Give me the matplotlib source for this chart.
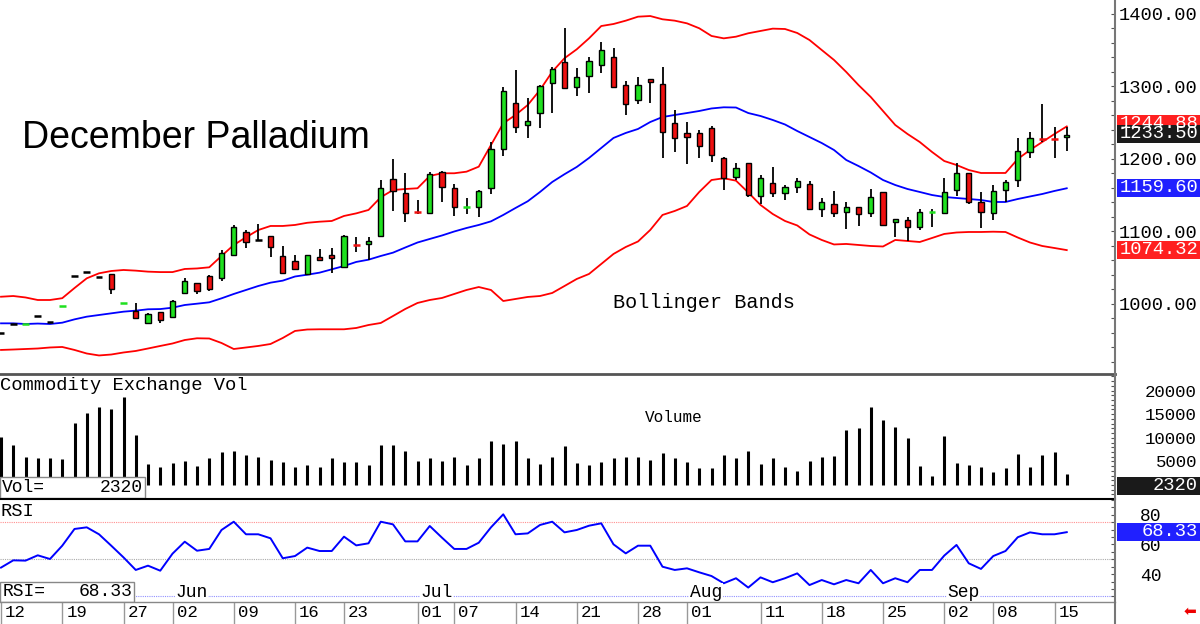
import numpy as np
import matplotlib
matplotlib.use('Agg')
import matplotlib.pyplot as plt
from matplotlib.patches import Rectangle
from matplotlib.ticker import MultipleLocator, FixedLocator

# ---- data ----
opens = [960.4, 973, 972.2, 983, 975.6, 996.8, 1038.6, 1044.6, 1036.8, 1041,
         1001.2, 990.3, 974.2, 988.5, 982.5, 1014.7, 1028.5, 1038.6, 1035.4, 1067.6,
         1099.7, 1088.3, 1093.4, 1066.2, 1059.3, 1041.4, 1064.4, 1067.6, 1050.6, 1081.4,
         1082.8, 1093.8, 1172, 1152.7, 1127.6, 1126, 1182.5, 1159.6, 1134, 1133.3,
         1159.6, 1213.3, 1276.8, 1246.9, 1263, 1304.4, 1333.4, 1298.9, 1314.5, 1329.7,
         1340.7, 1301.7, 1281.4, 1310.3, 1303.4, 1249.2, 1235.4, 1235.4, 1243.2, 1200.9,
         1175.6, 1194, 1149, 1166.4, 1152.7, 1161, 1165.1, 1130.6, 1137.9, 1126.5,
         1133.4, 1125.1, 1154, 1112.7, 1115.9, 1105.8, 1126.3, 1125.1, 1157.2, 1180.3,
         1140.3, 1125.1, 1157.2, 1171, 1210, 1228.5, 1227.4, 1230.3]
highs = [960.4, 973, 972.6, 983, 975.6, 997.2, 1038.6, 1044.6, 1036.8, 1041,
         1001.6, 1001.4, 987, 989, 1005, 1035.4, 1029, 1040, 1074.5, 1108.3,
         1102, 1110.3, 1094, 1080, 1067.6, 1068, 1075.4, 1076.8, 1095, 1092,
         1092, 1171, 1199.6, 1181, 1143.4, 1182.5, 1183, 1165, 1145.7, 1157,
         1224, 1299.7, 1322.8, 1283.7, 1301.5, 1327, 1380.3, 1326, 1341, 1361.8,
         1352.7, 1307.6, 1312.7, 1310.5, 1327.3, 1267.6, 1250.6, 1240, 1245.5, 1203.2,
         1194.9, 1194.5, 1177.9, 1189.4, 1164.1, 1173.3, 1169.7, 1146.6, 1156.3, 1141.1,
         1134, 1158.6, 1154.5, 1117, 1120.4, 1131, 1131, 1173.3, 1194.9, 1181,
         1155, 1164.1, 1171, 1228.5, 1237.7, 1275.9, 1244.6, 1244.6]
lows = [960.4, 973, 972.2, 983, 975.6, 996.8, 1038.6, 1044.6, 1036.8, 1013.8,
        1001.2, 979.5, 973.5, 974.2, 981, 1013.8, 1013.8, 1018.3, 1031.7, 1067,
        1077.7, 1088.3, 1064.4, 1043, 1047, 1041, 1060, 1043.2, 1050, 1072,
        1060.7, 1093, 1128.7, 1113.5, 1123.7, 1125.5, 1141, 1121.4, 1123.7, 1120.4,
        1151.3, 1204, 1236.3, 1228.5, 1242.3, 1263, 1297, 1287.3, 1290.6, 1319,
        1299, 1260.7, 1275.9, 1277.7, 1200.9, 1209.2, 1192.7, 1200.9, 1196.3, 1157.2,
        1171, 1148, 1137.9, 1148, 1143.4, 1152.7, 1130, 1119.6, 1119.6, 1103,
        1108, 1119.6, 1107.6, 1092, 1087.3, 1102, 1105.8, 1124, 1149, 1138,
        1104.4, 1115.9, 1140.3, 1161.8, 1200.9, 1224, 1200.9, 1211]
closes = [960.4, 973, 972.6, 983, 975.6, 997.2, 1038.6, 1044.6, 1036.8, 1020.3,
          1001.6, 980.3, 986.2, 977.9, 1004, 1032.2, 1017.5, 1020.3, 1069.9, 1106.6,
          1085.9, 1088.3, 1079.1, 1043.2, 1047.8, 1067.6, 1060.7, 1063, 1093.8, 1080.8,
          1087.3, 1159.6, 1155.9, 1126, 1127, 1179.3, 1161, 1134.2, 1134.5, 1155.9,
          1213.3, 1293.8, 1244.6, 1252.4, 1300.7, 1323.7, 1297.5, 1313.5, 1335.2, 1350,
          1299.7, 1275.5, 1302, 1305.8, 1237.6, 1228.5, 1230.8, 1217.9, 1205.1, 1173.3,
          1187.2, 1150.3, 1173.3, 1152.7, 1161, 1169.7, 1131, 1141.1, 1126, 1133.8,
          1124.1, 1147.2, 1109, 1116.8, 1105.8, 1126.5, 1126.7, 1154.9, 1180.3, 1141.1,
          1127.3, 1156.3, 1168.7, 1211, 1228.5, 1226.2, 1227, 1233.5]

bb_upper = [1010, 1011, 1009, 1005.5, 1005.5, 1008, 1022, 1035.4, 1042.3, 1045.5,
            1046.9, 1046, 1044.6, 1044, 1044, 1048.3, 1049, 1050.6, 1066.2, 1081.4,
            1092, 1102, 1107.6, 1107.6, 1109, 1112, 1113.5, 1114.5, 1121.4, 1125,
            1129.7, 1147.2, 1157.2, 1158.6, 1159.6, 1176.6, 1180.3, 1180.3, 1182.5, 1189.4,
            1219.3, 1249.2, 1260.7, 1274.5, 1295.2, 1320.4, 1339, 1351.3, 1366.4, 1383.4,
            1386.2, 1390.8, 1396.3, 1397.2, 1392.7, 1390.8, 1387.1, 1380.3, 1369.7, 1366.4,
            1368.7, 1373.4, 1376.6, 1379.8, 1379.3, 1373.8, 1364.1, 1350.3, 1336.6, 1320,
            1302, 1285.5, 1266.2, 1246.9, 1234.5, 1223.4, 1209.7, 1197.2, 1191.7, 1184.8,
            1180.7, 1180.7, 1180.7, 1200, 1212.4, 1223.4, 1234.5, 1244.88]
bb_mid = [973.3, 973.3, 972.4, 973, 972.4, 974.2, 978.8, 982.5, 984.8, 987.1,
          989.4, 990.8, 992.7, 993, 994.9, 998.6, 1000.4, 1002.3, 1007.8, 1013.8,
          1019.3, 1024.8, 1029.4, 1032.2, 1037.9, 1040.4, 1043.2, 1047.8, 1052.4, 1058,
          1061.1, 1066.2, 1070.8, 1077.9, 1084.8, 1089.7, 1094.5, 1100, 1104.8, 1109,
          1114, 1122.8, 1132.4, 1141.7, 1154.5, 1168.3, 1179, 1189, 1201.4, 1215.2,
          1229, 1235.9, 1241.4, 1251, 1257.9, 1260.7, 1263.4, 1266.2, 1269.7, 1271.3,
          1271, 1263.4, 1259.3, 1253.8, 1247.6, 1238.6, 1230.3, 1222, 1212.4, 1198.6,
          1190.3, 1181.4, 1171, 1164.1, 1158.6, 1154.5, 1150.3, 1147.6, 1146.2, 1144.8,
          1143.4, 1140.7, 1140.7, 1144.8, 1148.3, 1151.7, 1155.9, 1159.6]
bb_lower = [936.6, 937.2, 937.9, 938.6, 940, 940.7, 936.6, 931.7, 929, 930.3,
            933.1, 935.2, 938.6, 942.1, 945.5, 950.3, 952.7, 952.4, 946.2, 937.9,
            940, 942.1, 944.8, 953.1, 962.8, 964.8, 965.1, 965.1, 965.1, 966.9,
            971, 973.8, 983.4, 993.1, 1001.4, 1005.5, 1008.3, 1013.8, 1019.3, 1023.4,
            1019.3, 1004.1, 1006.9, 1009.7, 1011, 1015.2, 1024.8, 1034.5, 1041.4, 1055.2,
            1069, 1078.6, 1086.2, 1102.1, 1122.8, 1128.3, 1135.2, 1154.5, 1171, 1173.4,
            1170.1, 1153.8, 1136.6, 1124.1, 1114.5, 1108.3, 1095.9, 1088.3, 1082.1, 1082.8,
            1081.4, 1080, 1079.3, 1088.3, 1086.9, 1085.5, 1091, 1096.6, 1098.6, 1099.3,
            1099.3, 1099.7, 1099.3, 1091.7, 1084.8, 1080, 1077.2, 1074.32]

volume = [10200, 8500, 6000, 5650, 5650, 5500, 13060, 15320, 16600, 16100,
          18700, 10500, 4450, 3900, 4600, 5100, 4000, 5650, 7060, 7270,
          6350, 5860, 5300, 4800, 3900, 4240, 3740, 5650, 4800, 4800,
          4240, 8400, 8400, 7270, 5080, 5650, 5150, 6000, 4240, 5790,
          9320, 8680, 9320, 5650, 4450, 5860, 8260, 4590, 4300, 4800,
          5650, 5860, 5860, 5300, 6700, 5650, 4800, 3670, 3530, 6350,
          5650, 7200, 4380, 5790, 3880, 3040, 5080, 6000, 6140, 11650,
          12140, 16590, 13770, 12350, 9880, 4020, 1900, 10380, 4590, 4240,
          3740, 2680, 3670, 6570, 3880, 6350, 7060, 2320]

rsi = [44.4, 49.3, 49.1, 52.7, 50.2, 59.2, 70.5, 71.6, 66.9, 59.2,
       51.3, 42.8, 45.7, 42.3, 53.8, 61.9, 55.8, 57.0, 69.8, 75.4,
       66.9, 66.9, 64.2, 50.7, 52.2, 57.9, 55.6, 55.6, 65.3, 59.4,
       60.8, 75.4, 73.6, 62.1, 62.1, 72.5, 64.6, 57.0, 57.0, 61.2,
       71.6, 80.4, 66.9, 67.5, 73.2, 75.4, 68.2, 69.8, 72.7, 74.3,
       60.1, 54.0, 59.2, 59.2, 45.0, 42.8, 43.9, 41.2, 38.7, 33.8,
       37.2, 30.9, 37.8, 34.5, 37.2, 40.5, 32.6, 36.0, 33.1, 36.0,
       33.8, 42.8, 33.8, 37.2, 34.5, 42.8, 42.8, 52.5, 59.7, 47.3,
       43.5, 52.2, 55.6, 64.9, 68.2, 66.9, 66.9, 68.33]

tick_idx = [0, 5, 10, 14, 19, 24, 28, 34, 37, 42, 47, 52, 56, 62, 67, 72, 77, 81, 86]
tick_lbl = ['12', '19', '27', '02', '09', '16', '23', '01', '07', '14', '21',
            '28', '01', '11', '18', '25', '02', '08', '15']
month_idx = [14, 34, 56, 77]
month_lbl = ['Jun', 'Jul', 'Aug', 'Sep']

# ---- style ----
W, H = 1200, 624
MONO = ['Liberation Mono', 'DejaVu Sans Mono']
SANS = ['Liberation Sans', 'DejaVu Sans']
RED = '#ff0000'; BLUE = '#0000ff'
CUP = '#1fe01f'; CDN = '#ee1010'
plt.rcParams.update({'font.family': MONO, 'axes.linewidth': 0})

fig = plt.figure(figsize=(W / 100, H / 100), dpi=100)
RX = 1115

def px_axes(top, bot):
    return fig.add_axes([0, 1 - bot / H, RX / W, (bot - top) / H])

ax = px_axes(0, 373)
axv = px_axes(375, 498)
axr = px_axes(499, 601.5)

n = len(closes)
x = np.arange(n)
XL = (-1 / 12.25, (RX - 1) / 12.25)
for a in (ax, axv, axr):
    a.set_xlim(*XL)
    a.set_xticks([])
    a.yaxis.tick_right()
    for s in a.spines.values():
        s.set_visible(False)

# ---- price panel ----
ax.set_ylim(904.8, 1419.3)
ax.plot(x, bb_upper, color=RED, lw=1.3, zorder=2)
ax.plot(x, bb_lower, color=RED, lw=1.3, zorder=2)
ax.plot(x, bb_mid, color=BLUE, lw=1.3, zorder=2)

bw = 0.42
for i in range(n):
    o, h, l, c = opens[i], highs[i], lows[i], closes[i]
    col = CUP if c > o else (CDN if c < o else 'black')
    if h > l:
        ax.vlines(i, l, h, color='black', lw=1.3, zorder=3)
    if abs(c - o) < 2.5:
        ax.hlines((o + c) / 2, i - 0.27, i + 0.27, color=col, lw=1.8, zorder=4)
    else:
        ax.add_patch(Rectangle((i - bw / 2, min(o, c)), bw, abs(c - o), facecolor=col,
                               edgecolor='black', lw=1.0, zorder=4))

ax.yaxis.set_major_locator(FixedLocator([1000, 1100, 1200, 1300, 1400]))
ax.yaxis.set_minor_locator(MultipleLocator(20))
ax.yaxis.set_major_formatter(matplotlib.ticker.FormatStrFormatter('%.2f'))
ax.tick_params(axis='y', which='both', direction='in', length=3, width=0.8,
               colors='#555555', labelcolor='black', labelsize=13.5, pad=3)

ax.text(22 / RX, 1 - 138 / 373, 'December Palladium', transform=ax.transAxes,
        family=SANS, fontsize=27, va='center', ha='left')
ax.text(613 / RX, 1 - 302 / 373, 'Bollinger Bands', transform=ax.transAxes,
        fontsize=14.5, va='center', ha='left')

# ---- volume panel ----
axv.set_ylim(-2754, 23305)
axv.vlines(x, 0, volume, color='black', lw=2.2)
axv.yaxis.set_major_locator(FixedLocator([0, 5000, 10000, 15000, 20000]))
axv.yaxis.set_minor_locator(MultipleLocator(1000))
axv.tick_params(axis='y', which='both', direction='in', length=3, width=0.8,
                colors='#555555', labelcolor='black', labelsize=12.5, pad=59)
for t in axv.get_yticklabels():
    t.set_horizontalalignment('right')
axv.text(0, 1 - 10 / 123, 'Commodity Exchange Vol', transform=axv.transAxes,
         fontsize=13.5, va='center', ha='left')
axv.text(645 / RX, 1 - 42 / 123, 'Volume', transform=axv.transAxes,
         fontsize=11.5, va='center', ha='left')
axv.add_patch(Rectangle((0, 0), 145 / RX, 21 / 123, transform=axv.transAxes,
                        facecolor='white', edgecolor='#888888', lw=1, zorder=5))
axv.text(0.002, 10.5 / 123, 'Vol=', transform=axv.transAxes, fontsize=13,
         va='center', ha='left', zorder=6)
axv.text(143 / RX, 10.5 / 123, '2320', transform=axv.transAxes, fontsize=13,
         va='center', ha='right', zorder=6)

# ---- RSI panel ----
axr.set_ylim(21.49, 90.74)
axr.axhline(75, color='#ff9090', lw=0.8, ls=(0, (1, 1)), zorder=1)
axr.axhline(50, color='#aaaaaa', lw=0.8, ls=(0, (1, 1)), zorder=1)
axr.axhline(25, color='#9090ff', lw=0.8, ls=(0, (1, 1)), zorder=1)
axr.plot(x, rsi, color=BLUE, lw=1.4, zorder=3)
axr.yaxis.set_major_locator(FixedLocator([40, 60, 80]))
axr.yaxis.set_minor_locator(MultipleLocator(5))
axr.tick_params(axis='y', which='both', direction='in', length=3, width=0.8,
                colors='#555555', labelcolor='black', labelsize=13, pad=18)
axr.text(0, 1 - 12 / 102.5, 'RSI', transform=axr.transAxes, fontsize=13.5,
         va='center', ha='left', zorder=6,
         bbox=dict(facecolor='white', edgecolor='none', pad=1))
axr.add_patch(Rectangle((0, 0), 134 / RX, 20 / 102.5, transform=axr.transAxes,
                        facecolor='white', edgecolor='#888888', lw=1, zorder=5))
axr.text(0.002, 10 / 102.5, 'RSI=', transform=axr.transAxes, fontsize=13,
         va='center', ha='left', zorder=6)
axr.text(132 / RX, 10 / 102.5, '68.33', transform=axr.transAxes, fontsize=13,
         va='center', ha='right', zorder=6)
for mi, ml in zip(month_idx, month_lbl):
    axr.text(mi + 3 / 12.25, 27.9, ml, fontsize=13, va='center', ha='left', zorder=4,
             bbox=dict(facecolor='white', edgecolor='none', pad=0.5))

# date row beneath the RSI panel
row = 22.5 / 102.5
for ti, tl in zip(tick_idx, tick_lbl):
    axr.vlines(ti, -row, 0, color='#999999', lw=1, clip_on=False,
               transform=axr.get_xaxis_transform())
    axr.text(ti + 4 / 12.25, -row / 2, tl, transform=axr.get_xaxis_transform(),
             fontsize=12.5, va='center', ha='left')

# panel separators and right axis line
fig.add_artist(plt.Line2D([0, RX / W], [1 - 374 / H] * 2, color='#555555', lw=2))
fig.add_artist(plt.Line2D([0, RX / W], [1 - 498.5 / H] * 2, color='black', lw=1.5))
fig.add_artist(plt.Line2D([0, RX / W], [1 - 601.5 / H] * 2, color='#888888', lw=1))
fig.add_artist(plt.Line2D([RX / W] * 2, [1, 1 - 624 / H], color='#777777', lw=1.5))

# value boxes on the right
def value_box(yc, txt, fc):
    fig.add_artist(Rectangle((1117 / W, 1 - (yc + 9) / H), 83 / W, 18 / H,
                             transform=fig.transFigure, facecolor=fc, edgecolor='none'))
    fig.text(1198 / W, 1 - yc / H, txt, color='white', fontsize=13.5, ha='right',
             va='center')

value_box(124, '1244.88', '#ff2020')
value_box(134, '1233.50', '#1a1a1a')
value_box(188, '1159.60', '#2020ff')
value_box(250, '1074.32', '#ff2020')
value_box(486, '2320', '#1a1a1a')
value_box(532, '68.33', '#2020ff')

# small red arrow bottom right
fig.text(1190 / W, 1 - 611 / H, '\u2b05', color='#ee0000', fontsize=11,
         family=['DejaVu Sans'], ha='center', va='center')

fig.savefig('out.png', dpi=100, facecolor='white')
